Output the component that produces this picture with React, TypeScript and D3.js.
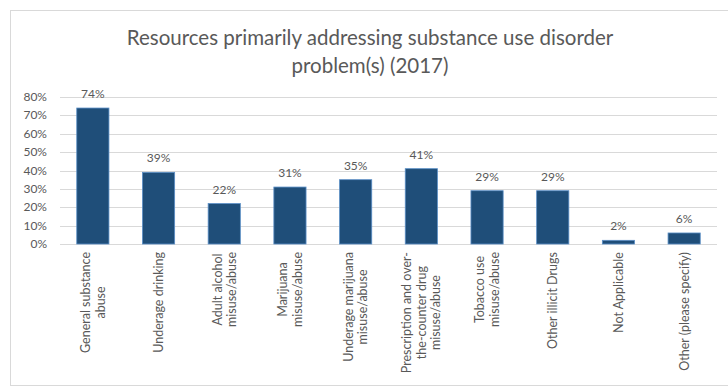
import React from "react";
import * as d3 from "d3";

const categories: string[][] = [
  ["General substance", "abuse"],
  ["Underage drinking"],
  ["Adult alcohol", "misuse/abuse"],
  ["Marijuana", "misuse/abuse"],
  ["Underage marijuana", "misuse/abuse"],
  ["Prescription and over-", "the-counter drug", "misuse/abuse"],
  ["Tobacco use", "misuse/abuse"],
  ["Other illicit Drugs"],
  ["Not Applicable"],
  ["Other (please specify)"],
];
const values: number[] = [0.74, 0.39, 0.22, 0.31, 0.35, 0.41, 0.29, 0.29, 0.02, 0.06];
const yTicks: number[] = [0, 0.1, 0.2, 0.3, 0.4, 0.5, 0.6, 0.7, 0.8];
const titleLines: string[] = [
  "Resources primarily addressing substance use disorder",
  "problem(s) (2017)",
];

const W = 728;
const H = 387;
const FONT = "Lato, 'Open Sans', sans-serif";
const TEXT = "#595959";
const LABEL_SIZE = 12.5;

let ctx: CanvasRenderingContext2D | null = null;
function measure(s: string): number {
  if (!ctx) {
    const c = document.createElement("canvas");
    ctx = c.getContext("2d");
  }
  if (!ctx) return s.length * LABEL_SIZE * 0.5;
  ctx.font = `${LABEL_SIZE}px Lato, 'Open Sans', sans-serif`;
  return ctx.measureText(s).width;
}

export default function App() {
  const keys = categories.map((_, i) => String(i));
  const x = d3.scaleBand<string>().domain(keys).range([60, 717]).paddingInner(0.51).paddingOuter(0.255);
  const y = d3.scaleLinear().domain([0, 0.8]).range([244, 97]);
  const fmt = d3.format(".0%");
  const lineH = 14.5;

  return (
    <div style={{ position: "absolute", left: 0, top: 0 }}>
      <svg width={W} height={H} style={{ display: "block", background: "#fff" }} fontFamily={FONT}>
        <rect x={10.5} y={10.5} width={W + 5} height={375} fill="#fff" stroke="#d9d9d9" />
        {titleLines.map((t, i) => (
          <text key={i} x={370} y={45 + i * 28} textAnchor="middle" fontSize={20.5} fill={TEXT}>
            {t}
          </text>
        ))}
        {yTicks.map((t) => (
          <g key={t}>
            <line x1={60} x2={717} y1={Math.round(y(t)) + 0.5} y2={Math.round(y(t)) + 0.5} stroke="#d9d9d9" />
            <text x={47} y={y(t) + 4} textAnchor="end" fontSize={12} fill={TEXT}>
              {fmt(t)}
            </text>
          </g>
        ))}
        {values.map((v, i) => {
          const bx = x(String(i))!;
          const bw = x.bandwidth();
          return (
            <g key={i}>
              <rect x={bx} y={y(v)} width={bw} height={y(0) - y(v)} fill="#1f4e79" stroke="#5b8fc7" strokeWidth={0.8} />
              <text x={bx + bw / 2} y={y(v) - 10} textAnchor="middle" fontSize={12} fill={TEXT}>
                {fmt(v)}
              </text>
            </g>
          );
        })}
        {categories.map((lines, i) => {
          const cx = x(String(i))! + x.bandwidth() / 2;
          const n = lines.length;
          const maxLen = Math.max(...lines.map(measure));
          return (
            <g key={i} transform={`translate(${cx},252) rotate(-90)`}>
              {lines.map((l, j) => (
                <text key={j} x={-maxLen / 2} y={(j - (n - 1) / 2) * lineH + 4.5} textAnchor="middle" fontSize={LABEL_SIZE} fill={TEXT}>
                  {l}
                </text>
              ))}
            </g>
          );
        })}
      </svg>
    </div>
  );
}
